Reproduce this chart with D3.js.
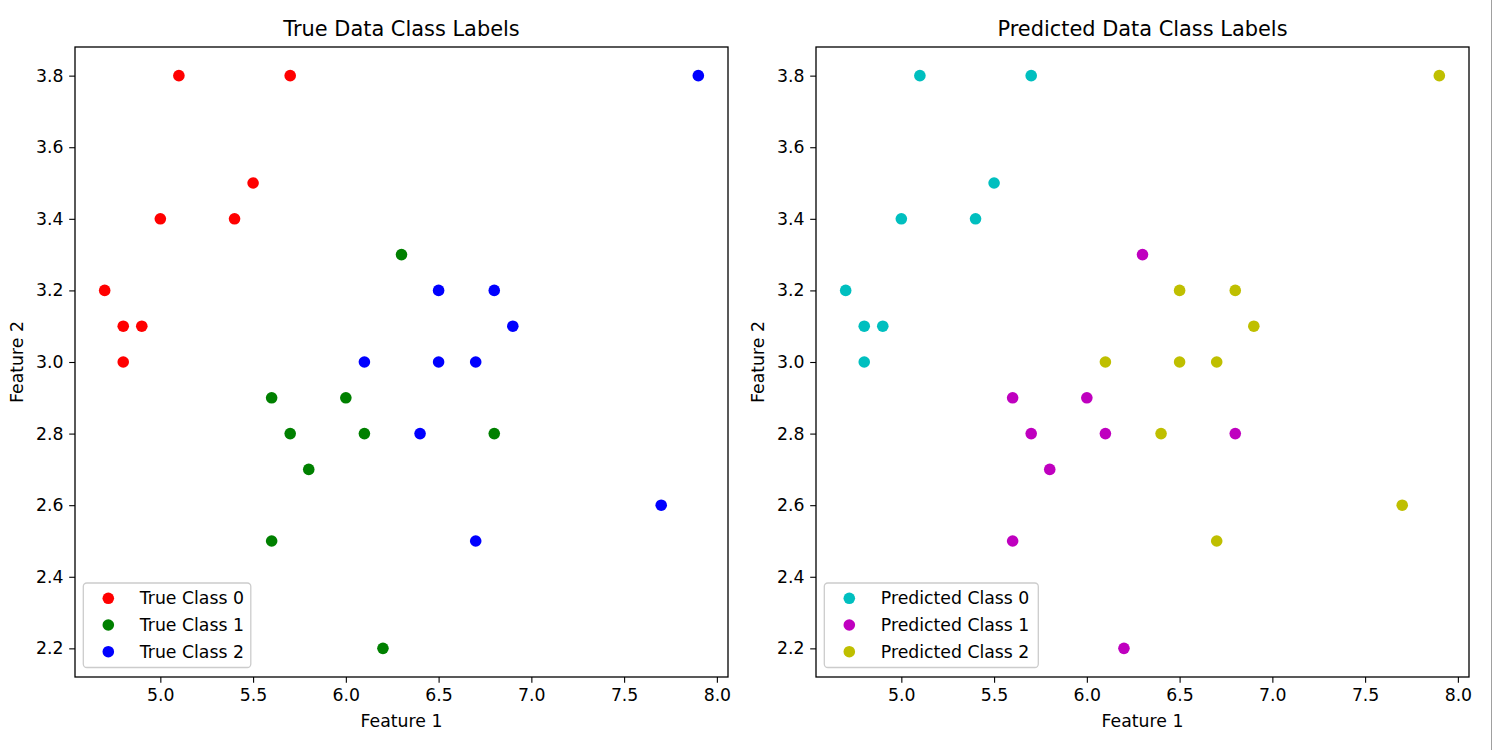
<!DOCTYPE html>
<html>
<head>
<meta charset="utf-8">
<script src="https://cdn.jsdelivr.net/npm/d3@7"></script>
<style>
  html, body { margin: 0; padding: 0; background: #fff; }
  svg { display: block; font-family: "DejaVu Sans", sans-serif; }
</style>
</head>
<body>
<svg id="chart" width="1493" height="750"></svg>
<script>
// ---- data ----
const feature1 = [5.1, 5.7, 5.5, 5.0, 5.4, 4.7, 4.8, 4.9, 4.8,
                  6.3, 5.6, 6.0, 5.7, 6.1, 6.8, 5.8, 5.6, 6.2,
                  7.9, 6.5, 6.8, 6.9, 6.1, 6.5, 6.7, 6.4, 7.7, 6.7];
const feature2 = [3.8, 3.8, 3.5, 3.4, 3.4, 3.2, 3.1, 3.1, 3.0,
                  3.3, 2.9, 2.9, 2.8, 2.8, 2.8, 2.7, 2.5, 2.2,
                  3.8, 3.2, 3.2, 3.1, 3.0, 3.0, 3.0, 2.8, 2.6, 2.5];
const trueLabels = [0,0,0,0,0,0,0,0,0, 1,1,1,1,1,1,1,1,1, 2,2,2,2,2,2,2,2,2,2];
const predLabels = [0,0,0,0,0,0,0,0,0, 1,1,1,1,1,1,1,1,1, 2,2,2,2,2,2,2,2,2,2];
const classes = [0, 1, 2];
const trueColors = ["#ff0000", "#008000", "#0000ff"];
const predColors = ["#00bfbf", "#bf00bf", "#bfbf00"];
const trueNames = ["True Class 0", "True Class 1", "True Class 2"];
const predNames = ["Predicted Class 0", "Predicted Class 1", "Predicted Class 2"];
const xTicks = [5.0, 5.5, 6.0, 6.5, 7.0, 7.5, 8.0];
const yTicks = [2.2, 2.4, 2.6, 2.8, 3.0, 3.2, 3.4, 3.6, 3.8];
const titles = ["True Data Class Labels", "Predicted Data Class Labels"];

const svg = d3.select("#chart");
const plotTop = 47, plotBottom = 677;
const panels = [
  { left: 75, right: 728, labels: trueLabels, colors: trueColors, names: trueNames, title: titles[0], legendW: 167.5 },
  { left: 816, right: 1469, labels: predLabels, colors: predColors, names: predNames, title: titles[1], legendW: 214 }
];

// domains with matplotlib-like 5% margins
const xMin = d3.min(feature1), xMax = d3.max(feature1);
const yMin = d3.min(feature2), yMax = d3.max(feature2);
const xPad = (xMax - xMin) * 0.05, yPad = (yMax - yMin) * 0.05;

const tickFont = 17.3;

panels.forEach(p => {
  const x = d3.scaleLinear().domain([xMin - xPad, xMax + xPad]).range([p.left, p.right]);
  const y = d3.scaleLinear().domain([yMin - yPad, yMax + yPad]).range([plotBottom, plotTop]);
  const g = svg.append("g");

  // points
  classes.forEach(c => {
    const idx = d3.range(feature1.length).filter(i => p.labels[i] === c);
    g.selectAll(null).data(idx).enter().append("circle")
      .attr("cx", i => x(feature1[i]))
      .attr("cy", i => y(feature2[i]))
      .attr("r", 5.8)
      .attr("fill", p.colors[c]);
  });

  // axes
  const xAxis = g.append("g").attr("transform", `translate(0,${plotBottom})`)
    .call(d3.axisBottom(x).tickValues(xTicks).tickFormat(d3.format(".1f")).tickSize(5.8).tickPadding(5.8));
  const yAxis = g.append("g").attr("transform", `translate(${p.left},0)`)
    .call(d3.axisLeft(y).tickValues(yTicks).tickFormat(d3.format(".1f")).tickSize(5.8).tickPadding(5.8));
  [xAxis, yAxis].forEach(a => {
    a.select(".domain").remove();
    a.selectAll(".tick line").attr("stroke", "#000").attr("stroke-width", 1.1);
    a.selectAll(".tick text").attr("font-size", tickFont).attr("fill", "#000")
      .attr("font-family", "DejaVu Sans, sans-serif");
  });

  // frame
  g.append("rect").attr("x", p.left).attr("y", plotTop)
    .attr("width", p.right - p.left).attr("height", plotBottom - plotTop)
    .attr("fill", "none").attr("stroke", "#000").attr("stroke-width", 1.3);

  // title
  g.append("text").attr("x", (p.left + p.right) / 2).attr("y", 36)
    .attr("text-anchor", "middle").attr("font-size", 20.9).attr("fill", "#000")
    .text(p.title);

  // axis labels
  g.append("text").attr("x", (p.left + p.right) / 2).attr("y", 727)
    .attr("text-anchor", "middle").attr("font-size", tickFont).attr("fill", "#000")
    .text("Feature 1");
  g.append("text")
    .attr("transform", `translate(${p.left - 52},${(plotTop + plotBottom) / 2}) rotate(-90)`)
    .attr("text-anchor", "middle").attr("font-size", tickFont).attr("fill", "#000")
    .text("Feature 2");

  // legend
  const lx = p.left + 8.3, ly = 583;
  const lg = g.append("g");
  lg.append("rect").attr("x", lx).attr("y", ly).attr("width", p.legendW).attr("height", 84.5)
    .attr("rx", 3.5).attr("fill", "#fff").attr("fill-opacity", 0.8)
    .attr("stroke", "#cccccc").attr("stroke-width", 1.3);
  classes.forEach((c, k) => {
    const cy = 598.3 + k * 26.7;
    lg.append("circle").attr("cx", lx + 25).attr("cy", cy).attr("r", 5.8).attr("fill", p.colors[c]);
    lg.append("text").attr("x", lx + 56.5).attr("y", cy).attr("dy", "0.35em")
      .attr("font-size", tickFont).attr("fill", "#000").text(p.names[c]);
  });
});

// window edge line seen at the right of the reference
svg.append("line").attr("x1", 1491.5).attr("x2", 1491.5).attr("y1", 0).attr("y2", 750)
  .attr("stroke", "#a0a0a0").attr("stroke-width", 1);
</script>
</body>
</html>
